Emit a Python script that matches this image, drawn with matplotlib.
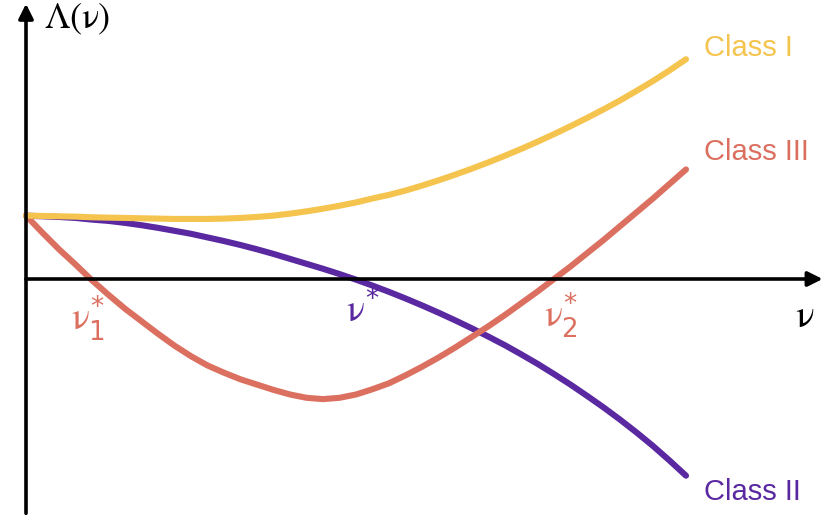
import matplotlib.pyplot as plt
import numpy as np

plt.rcParams["mathtext.fontset"] = "custom"
plt.rcParams["mathtext.rm"] = "STIXGeneral"
plt.rcParams["mathtext.it"] = "STIXGeneral"
plt.rcParams["mathtext.sf"] = "DejaVu Sans"

# nu grid (arbitrary units), Lambda values
nu = np.arange(0, 10.01, 0.25)
class_1 = [0.96, 0.955, 0.95, 0.945, 0.935, 0.93, 0.925, 0.92, 0.915, 0.91, 0.91,
           0.91, 0.915, 0.925, 0.94, 0.96, 0.99, 1.025, 1.065, 1.11, 1.16,
           1.22, 1.275, 1.34, 1.415, 1.495, 1.58, 1.67, 1.765, 1.865, 1.97,
           2.08, 2.195, 2.315, 2.44, 2.57, 2.705, 2.85, 3.0, 3.16, 3.33]
class_2 = [0.96, 0.95, 0.94, 0.925, 0.90, 0.88, 0.85, 0.815, 0.775, 0.73, 0.685,
           0.63, 0.575, 0.515, 0.45, 0.38, 0.305, 0.23, 0.155, 0.075, -0.01,
           -0.10, -0.195, -0.295, -0.40, -0.51, -0.625, -0.745, -0.87, -1.0, -1.14,
           -1.285, -1.44, -1.60, -1.77, -1.945, -2.13, -2.325, -2.53, -2.75, -2.98]
class_3 = [0.96, 0.70, 0.45, 0.22, -0.02, -0.24, -0.45, -0.64, -0.83, -1.01, -1.17,
           -1.31, -1.42, -1.52, -1.60, -1.68, -1.75, -1.80, -1.82, -1.80, -1.75,
           -1.67, -1.58, -1.46, -1.33, -1.19, -1.04, -0.88, -0.72, -0.55, -0.37,
           -0.19, 0.0, 0.19, 0.39, 0.59, 0.80, 1.01, 1.22, 1.44, 1.66]

colors = {"Class I": "#F5C44E", "Class II": "#5A28A0", "Class III": "#DC7060"}

fig = plt.figure(figsize=(8.29, 5.17), dpi=100)
ax = fig.add_axes([0, 0, 1, 1])
ax.set_xlim(-26 / 66, 803 / 66)
ax.set_ylim(-238 / 66, 279 / 66)
ax.axis("off")

# axes with arrows
arrow = dict(arrowstyle="-|>", lw=2.6, color="black", mutation_scale=22,
             shrinkA=0, shrinkB=0)
ax.annotate("", xy=(12.07, 0), xytext=(0, 0), arrowprops=arrow)
ax.annotate("", xy=(0, 4.17), xytext=(0, -3.55), arrowprops=arrow)

for name, vals in [("Class II", class_2), ("Class III", class_3), ("Class I", class_1)]:
    ax.plot(nu, vals, color=colors[name], lw=4.4, solid_capstyle="round",
            solid_joinstyle="round")

sans = "Liberation Sans"
ax.text(10.27, 3.5, "Class I", color=colors["Class I"], fontsize=21,
        family=sans, va="center", ha="left")
ax.text(10.27, 1.92, "Class III", color=colors["Class III"], fontsize=21,
        family=sans, va="center", ha="left")
ax.text(10.27, -3.23, "Class II", color=colors["Class II"], fontsize=21,
        family=sans, va="center", ha="left")

ax.text(0.27, 3.93, r"$\Lambda(\nu)$", fontsize=26, va="center", ha="left")
ax.text(11.8, -0.56, r"$\nu$", fontsize=28, va="center", ha="center")
ax.text(0.94, -0.6, r"$\nu_{\mathsf{1}}^{\mathsf{*}}$", fontsize=27, va="center",
        ha="center", color=colors["Class III"])
ax.text(5.1, -0.48, r"$\nu^{\mathsf{*}}$", fontsize=27, va="center", ha="center",
        color=colors["Class II"])
ax.text(8.1, -0.55, r"$\nu_{\mathsf{2}}^{\mathsf{*}}$", fontsize=27, va="center",
        ha="center", color=colors["Class III"])

fig.savefig("out.png", dpi=100)
